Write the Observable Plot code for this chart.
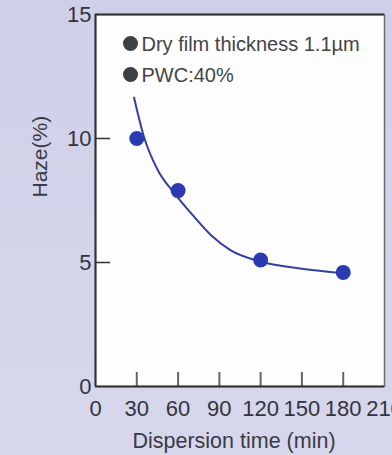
<!DOCTYPE html>
<html><head><meta charset="utf-8">
<script src="https://cdn.jsdelivr.net/npm/d3@7"></script>
<script src="https://cdn.jsdelivr.net/npm/@observablehq/plot@0.6"></script>
<style>
html,body{margin:0;padding:0;}
body{width:392px;height:455px;overflow:hidden;background:linear-gradient(180deg,#cfd0e8 0%,#d4d5eb 60%,#d6d7ec 100%);}
</style></head><body><div id="chart"></div>
<script>
// measured points
const times = [30, 60, 120, 180];
const haze = [10.0, 7.9, 5.1, 4.6];
// fitted curve
const fitTimes = [28, 35, 45, 58, 70, 84, 98, 119, 150, 180];
const fitHaze = [11.65, 10.1, 8.75, 7.75, 6.95, 6.1, 5.5, 5.05, 4.75, 4.57];
// ticks
const xTicks = [0, 30, 60, 90, 120, 150, 180, 210];
const xInnerTicks = [30, 60, 90, 120, 150, 180];
const yTicks = [0, 5, 10, 15];
const yInnerTicks = [5, 10];
// texts
const legendLabels = ["Dry film thickness 1.1\u00b5m", "PWC:40%"];
const xTitle = "Dispersion time (min)";
const yTitle = "Haze(%)";

const points = times.map((t, i) => ({t, h: haze[i]}));
const fit = fitTimes.map((t, i) => ({t, h: fitHaze[i]}));

const W = 392, H = 455, mL = 95, mR = 8, mT = 14, mB = 69;
const fw = W - mL - mR, fh = H - mT - mB;
const font = "'Liberation Sans', Arial, Helvetica, sans-serif";

const chart = Plot.plot({
  width: W, height: H,
  marginLeft: mL, marginRight: mR, marginTop: mT, marginBottom: mB,
  style: {fontFamily: font, background: "transparent", color: "#333"},
  x: {domain: [0, 210], axis: null},
  y: {domain: [0, 15], axis: null},
  marks: [
    Plot.frame({fill: "#fdfdfe", stroke: null}),
    Plot.tickX(xInnerTicks, {x: d => d, stroke: "#666", strokeWidth: 2, insetTop: fh - 14}),
    Plot.tickY(yInnerTicks, {y: d => d, stroke: "#333", strokeWidth: 1.5, insetRight: fw - 15}),
    Plot.frame({stroke: "#6a6a70", strokeWidth: 1.5}),
    Plot.ruleX([0], {stroke: "#333", strokeWidth: 2}),
    Plot.ruleY([0], {stroke: "#333", strokeWidth: 2}),
    Plot.ruleY([15], {stroke: "#333", strokeWidth: 2}),
    Plot.axisX(xTicks, {tickSize: 0, tickPadding: 14, fontSize: 22, fill: "#34343c", label: null}),
    Plot.axisY(yTicks, {tickSize: 0, tickPadding: 4, fontSize: 22, fill: "#34343c", label: null}),
    Plot.line(fit, {x: "t", y: "h", curve: "monotone-x", stroke: "#3340a0", strokeWidth: 2}),
    Plot.dot(points, {x: "t", y: "h", r: 7.5, fill: "#2a3ab2", stroke: null}),
    Plot.dot([legendLabels[0]], {frameAnchor: "top-left", dx: 35, dy: 29, r: 7.5, fill: "#3d4043"}),
    Plot.dot([legendLabels[1]], {frameAnchor: "top-left", dx: 35, dy: 60, r: 7.5, fill: "#3d4043"}),
    Plot.text([legendLabels[0]], {text: d => d, frameAnchor: "top-left", dx: 46, dy: 30, textAnchor: "start", lineAnchor: "middle", fontSize: 20, fill: "#444"}),
    Plot.text([legendLabels[1]], {text: d => d, frameAnchor: "top-left", dx: 46, dy: 61, textAnchor: "start", lineAnchor: "middle", fontSize: 20, fill: "#444"}),
    Plot.text([yTitle], {text: d => d, frameAnchor: "left", dx: -55, dy: -3, rotate: -90, fontSize: 21, fill: "#3a3a44"}),
    Plot.text([xTitle], {text: d => d, frameAnchor: "bottom", dx: -6, dy: 55, lineAnchor: "middle", fontSize: 21.5, fill: "#3a3a44"})
  ]
});
document.getElementById("chart").appendChild(chart);
</script></body></html>
